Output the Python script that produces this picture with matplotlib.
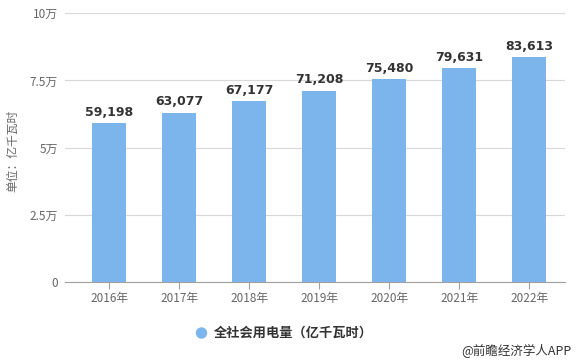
import matplotlib
matplotlib.use("Agg")
import matplotlib.pyplot as plt

years = ["2016年", "2017年", "2018年", "2019年", "2020年", "2021年", "2022年"]
values = [59198, 63077, 67177, 71208, 75480, 79631, 83613]
yticks = [0, 25000, 50000, 75000, 100000]
ytick_labels = ["0", "2.5万", "5万", "7.5万", "10万"]
series_name = "全社会用电量（亿千瓦时）"
y_label = "单位：亿千瓦时"
source = "@前瞻经济学人APP"

cjk = ["Noto Sans CJK SC", "DejaVu Sans"]
plt.rcParams['font.family'] = cjk

W, H = 578, 363
fig = plt.figure(figsize=(W / 100, H / 100), dpi=100)
ax = fig.add_axes([65 / W, 1 - 282 / H, 500 / W, (282 - 13.3) / H])

bar_color = "#7cb5ec"
x = list(range(len(years)))
ax.bar(x, values, width=0.48, color=bar_color, zorder=3)

ax.set_xlim(-0.63, 6.51)
ax.set_ylim(0, 100000)
ax.set_yticks(yticks)
ax.set_yticklabels(ytick_labels, fontsize=8.5, color="#666666")
ax.set_xticks(x)
ax.set_xticklabels(years, fontsize=8.5, color="#666666")
ax.grid(axis="y", color="#d8d8d8", linewidth=0.8, zorder=0)
for s in ["top", "right", "left"]:
    ax.spines[s].set_visible(False)
ax.spines["bottom"].set_color("#a0a0a0")
ax.spines["bottom"].set_linewidth(0.8)
ax.tick_params(axis="y", length=0, pad=5)
ax.tick_params(axis="x", length=5, color="#a0a0a0", width=0.8, pad=2)

for xi, v in zip(x, values):
    ax.annotate(f"{v:,}", (xi, v), xytext=(0, 3), textcoords="offset points",
                ha="center", va="bottom", fontsize=9, fontweight="bold",
                color="#333333", family="DejaVu Sans")

fig.text(13 / W, 1 - 151 / H, y_label, rotation=90, ha="center", va="center",
         fontsize=8.5, color="#666666")

# legend
fig.patches.append(matplotlib.patches.Ellipse((201.5 / W, 1 - 333 / H), 10 / W, 10 / H,
                                              transform=fig.transFigure, color=bar_color))
fig.text(214 / W, 1 - 333 / H, series_name, ha="left", va="center",
         fontsize=9.5, fontweight="bold", color="#333333")
fig.text(572 / W, 1 - 351 / H, source, ha="right", va="center",
         fontsize=9, color="#333333")

fig.savefig("out.png", dpi=100)
